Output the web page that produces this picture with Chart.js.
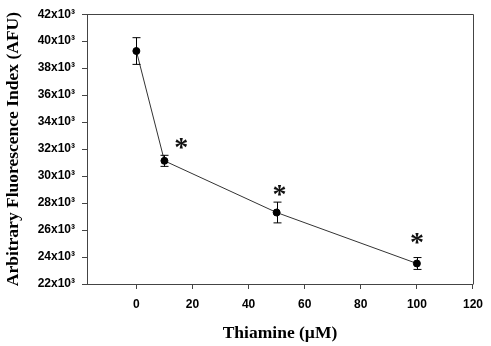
<!DOCTYPE html>
<html>
<head>
<meta charset="utf-8">
<script src="https://cdn.jsdelivr.net/npm/chart.js@4"></script>
<style>
  html, body { margin: 0; padding: 0; background: #fff; }
  #wrap { width: 491px; height: 346px; }
</style>
</head>
<body>
<div id="wrap"><canvas id="myChart" width="491" height="346"></canvas></div>
<script>
// thiamine concentration (µM) and mean fluorescence with SD
const thiamine = [0, 10, 50, 100];
const fluorescence = [39270, 31130, 27300, 23520];
const errors = [990, 410, 770, 440];

// significance markers
const starX = [16, 51, 100];
const starY = [32400, 28950, 25400];

const xTicks = [0, 20, 40, 60, 80, 100, 120];
const yTicks = [22000, 24000, 26000, 28000, 30000, 32000, 34000, 36000, 38000, 40000, 42000];

const axisColor = "#444";
const chart = document.querySelector("#myChart");

const supText = (v) => `${v / 1000}x10\u00b3`;

const errorBars = {
  id: "errorBars",
  afterDatasetsDraw(c) {
    const { ctx, scales: { x, y } } = c;
    ctx.save();
    ctx.strokeStyle = "#000";
    ctx.lineWidth = 1;
    thiamine.forEach((t, i) => {
      const px = Math.round(x.getPixelForValue(t)) + 0.5;
      const top = y.getPixelForValue(fluorescence[i] + errors[i]);
      const bot = y.getPixelForValue(fluorescence[i] - errors[i]);
      ctx.beginPath();
      ctx.moveTo(px, top);
      ctx.lineTo(px, bot);
      ctx.moveTo(px - 4, top);
      ctx.lineTo(px + 4, top);
      ctx.moveTo(px - 4, bot);
      ctx.lineTo(px + 4, bot);
      ctx.stroke();
    });
    ctx.restore();
  },
};

const stars = {
  id: "stars",
  afterDatasetsDraw(c) {
    const { ctx, scales: { x, y } } = c;
    ctx.save();
    ctx.fillStyle = "#111";
    ctx.font = 'bold 28px "Liberation Serif"';
    ctx.textAlign = "center";
    ctx.textBaseline = "alphabetic";
    const m = ctx.measureText("*");
    const mid = (m.actualBoundingBoxAscent - m.actualBoundingBoxDescent) / 2;
    starX.forEach((sx, i) => {
      ctx.fillText("*", x.getPixelForValue(sx), y.getPixelForValue(starY[i]) + mid);
    });
    ctx.restore();
  },
};

const frame = {
  id: "frame",
  beforeDatasetsDraw(c) {
    const { ctx, chartArea: a } = c;
    ctx.save();
    ctx.strokeStyle = axisColor;
    ctx.lineWidth = 1;
    ctx.beginPath();
    ctx.moveTo(Math.round(a.left) + 0.5, Math.round(a.top) + 0.5);
    ctx.lineTo(Math.round(a.right) + 0.5, Math.round(a.top) + 0.5);
    ctx.lineTo(Math.round(a.right) + 0.5, Math.round(a.bottom) + 0.5);
    ctx.stroke();
    ctx.restore();
  },
};

const config = {
  type: "line",
  data: {
    datasets: [
      {
        data: thiamine.map((t, i) => ({ x: t, y: fluorescence[i] })),
        borderColor: "#333",
        borderWidth: 1,
        pointRadius: 3.5,
        pointBackgroundColor: "#000",
        pointBorderColor: "#000",
        tension: 0,
      },
    ],
  },
  options: {
    responsive: false,
    animation: false,
    devicePixelRatio: 1,
    layout: { padding: { top: 11, right: 14, left: 0, bottom: 0 } },
    plugins: { legend: { display: false }, tooltip: { enabled: false } },
    scales: {
      x: {
        type: "linear",
        min: -17.6,
        max: 120,
        afterBuildTicks: (s) => { s.ticks = xTicks.map((v) => ({ value: v })); },
        afterFit: (s) => { s.height = 62; },
        grid: { display: true, drawOnChartArea: false, drawTicks: true, tickLength: 5, color: axisColor },
        border: { display: true, color: axisColor, width: 1 },
        ticks: {
          padding: 8,
          color: "#000",
          maxRotation: 0,
          font: { family: '"Liberation Sans", Arial', weight: "bold", size: 12 },
        },
        title: {
          display: true,
          text: "Thiamine (\u00b5M)",
          color: "#000",
          padding: { top: 0, bottom: 2 },
          font: { family: '"Liberation Serif", "Times New Roman"', weight: "bold", size: 17.5 },
        },
      },
      y: {
        min: 22000,
        max: 42000,
        afterBuildTicks: (s) => { s.ticks = yTicks.map((v) => ({ value: v })); },
        afterFit: (s) => { s.width = 87; },
        grid: { display: true, drawOnChartArea: false, drawTicks: true, tickLength: 5, color: axisColor },
        border: { display: true, color: axisColor, width: 1 },
        ticks: {
          padding: 7,
          color: "#000",
          callback: (v) => supText(v),
          font: { family: '"Liberation Sans", Arial', weight: "bold", size: 12 },
        },
        title: {
          display: true,
          text: "Arbitrary Fluorescence Index (AFU)",
          color: "#000",
          padding: { top: 3, bottom: 0 },
          font: { family: '"Liberation Serif", "Times New Roman"', weight: "bold", size: 17.5 },
        },
      },
    },
  },
  plugins: [frame, errorBars, stars],
};

const myChart = new Chart(chart, config);
</script>
</body>
</html>
